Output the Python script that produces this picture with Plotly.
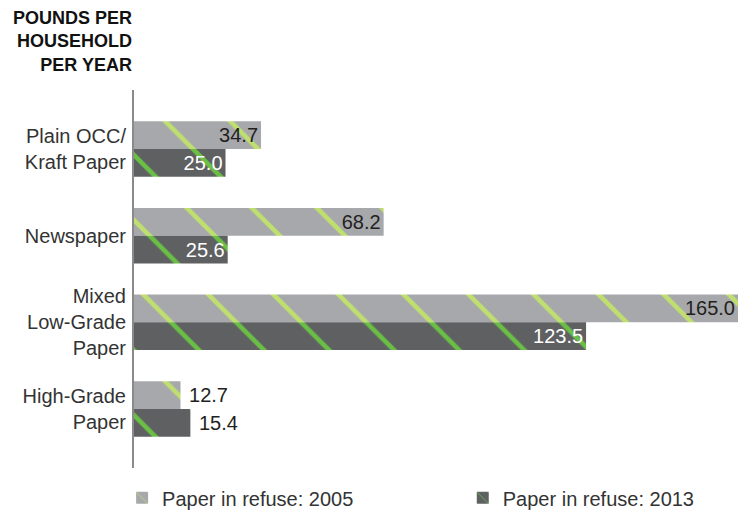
import plotly.graph_objects as go

categories = ["Plain OCC/<br>Kraft Paper", "Newspaper", "Mixed<br>Low-Grade<br>Paper", "High-Grade<br>Paper"]
series_names = ["Paper in refuse: 2005", "Paper in refuse: 2013"]
values_2005 = [34.7, 68.2, 165.0, 12.7]
values_2013 = [25.0, 25.6, 123.5, 15.4]

FONT = "Liberation Sans, Arial, Helvetica, sans-serif"

def text_pos(vals, threshold=20):
    return ["inside" if v > threshold else "outside" for v in vals]

def text_labels(vals, threshold=20):
    return [f"{v:.1f}" if v > threshold else f"\u00a0{v:.1f}" for v in vals]

fig = go.Figure()
fig.add_trace(go.Bar(
    y=categories, x=values_2005, orientation="h", name=series_names[0],
    legend="legend",
    marker=dict(color="#a7a8ab", line=dict(width=0),
                pattern=dict(shape="\\", bgcolor="#a7a8ab", fgcolor="#bfdf6f",
                             size=46, solidity=0.1, fillmode="replace", fgopacity=1)),
    text=text_labels(values_2005), textposition=text_pos(values_2005),
    insidetextanchor="end", constraintext="none",
    textfont=dict(family=FONT, size=20, color="#231f20"),
    outsidetextfont=dict(family=FONT, size=20, color="#231f20"),
    insidetextfont=dict(family=FONT, size=20, color="#231f20"),
    cliponaxis=False,
))
fig.add_trace(go.Bar(
    y=categories, x=values_2013, orientation="h", name=series_names[1],
    legend="legend2",
    marker=dict(color="#5f6062", line=dict(width=0),
                pattern=dict(shape="\\", bgcolor="#5f6062", fgcolor="#6abf45",
                             size=46, solidity=0.1, fillmode="replace", fgopacity=1)),
    text=text_labels(values_2013), textposition=text_pos(values_2013),
    insidetextanchor="end", constraintext="none",
    textfont=dict(family=FONT, size=20, color="#ffffff"),
    outsidetextfont=dict(family=FONT, size=20, color="#231f20"),
    insidetextfont=dict(family=FONT, size=20, color="#ffffff"),
    cliponaxis=False,
))

legend_common = dict(orientation="h", yanchor="middle", y=-0.079, xanchor="left",
                     font=dict(family=FONT, size=20, color="#333333"),
                     bgcolor="rgba(0,0,0,0)")

fig.update_layout(
    width=746, height=514,
    margin=dict(l=134, r=8, t=90, b=46, autoexpand=False),
    paper_bgcolor="white", plot_bgcolor="white",
    barmode="group", bargap=0.36, bargroupgap=0,
    font=dict(family=FONT, size=20, color="#333333"),
    xaxis=dict(range=[0, 165], showgrid=False, zeroline=False, showticklabels=False,
               showline=False, fixedrange=True, automargin=False),
    yaxis=dict(autorange=False, range=[3.68, -0.68], showgrid=False, zeroline=False,
               showline=True, linecolor="#8a8a8a", linewidth=2, automargin=False,
               ticks="outside", ticklen=2, tickcolor="rgba(0,0,0,0)",
               tickfont=dict(family=FONT, size=20, color="#333333")),
    legend=dict(x=-0.0197, **legend_common),
    legend2=dict(x=0.5443, **legend_common),
    showlegend=True,
    annotations=[dict(
        text="<b>POUNDS PER<br>HOUSEHOLD<br>PER YEAR</b>",
        xref="paper", yref="paper", x=0, y=1, xanchor="right", yanchor="bottom",
        yshift=13, align="right", showarrow=False,
        font=dict(family=FONT, size=18, color="#111111"),
    )],
)

fig.write_html("out.html", config={"displayModeBar": False},
               post_script="document.body.style.margin='0';")
